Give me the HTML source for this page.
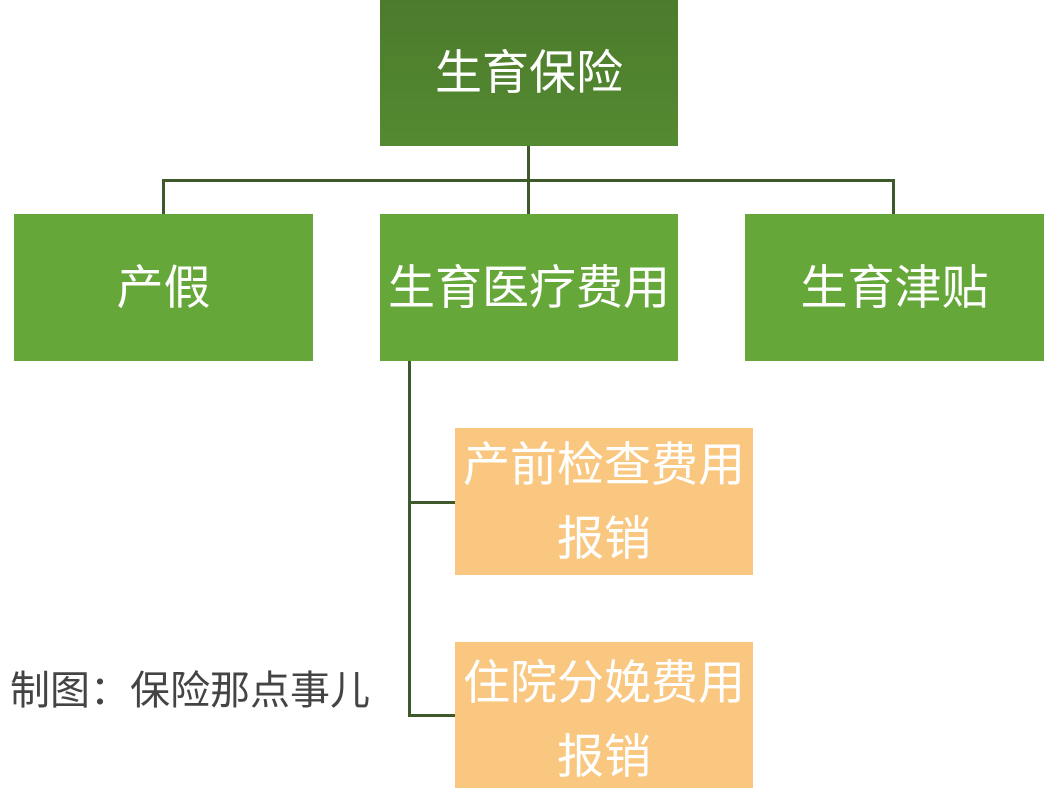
<!DOCTYPE html>
<html><head><meta charset="utf-8"><style>
body{margin:0;width:1064px;height:788px;background:#fff;position:relative;overflow:hidden;font-family:"Liberation Sans","Noto Sans CJK SC",sans-serif}
.b{position:absolute;display:flex;align-items:center;justify-content:center;text-align:center;color:#fff;font-size:47px;line-height:74px}
.l{position:absolute;background:#3f5a2a}
</style></head><body>
<div class="b" style="left:380px;top:0;width:298px;height:146px;background:linear-gradient(#4c7b2c,#548a31)">生育保险</div>
<div class="l" style="left:527px;top:146px;width:3px;height:68px"></div>
<div class="l" style="left:162px;top:179px;width:733px;height:3px"></div>
<div class="l" style="left:162px;top:179px;width:3px;height:35px"></div>
<div class="l" style="left:892px;top:179px;width:3px;height:35px"></div>
<div class="b" style="left:14px;top:214px;width:299px;height:147px;background:#66a73a">产假</div>
<div class="b" style="left:380px;top:214px;width:298px;height:147px;background:#66a73a">生育医疗费用</div>
<div class="b" style="left:745px;top:214px;width:299px;height:147px;background:#66a73a">生育津贴</div>
<div class="l" style="left:408px;top:361px;width:3px;height:356px"></div>
<div class="l" style="left:408px;top:501px;width:47px;height:3px"></div>
<div class="l" style="left:408px;top:714px;width:47px;height:3px"></div>
<div class="b" style="left:455px;top:428px;width:298px;height:147px;background:#f9c780">产前检查费用<br>报销</div>
<div class="b" style="left:455px;top:642px;width:298px;height:146px;background:#f9c780;align-items:flex-start;padding-top:4px;box-sizing:border-box">住院分娩费用<br>报销</div>
<div style="position:absolute;left:10px;top:666px;font-size:40px;color:#444;line-height:50px">制图：保险那点事儿</div>
</body></html>
